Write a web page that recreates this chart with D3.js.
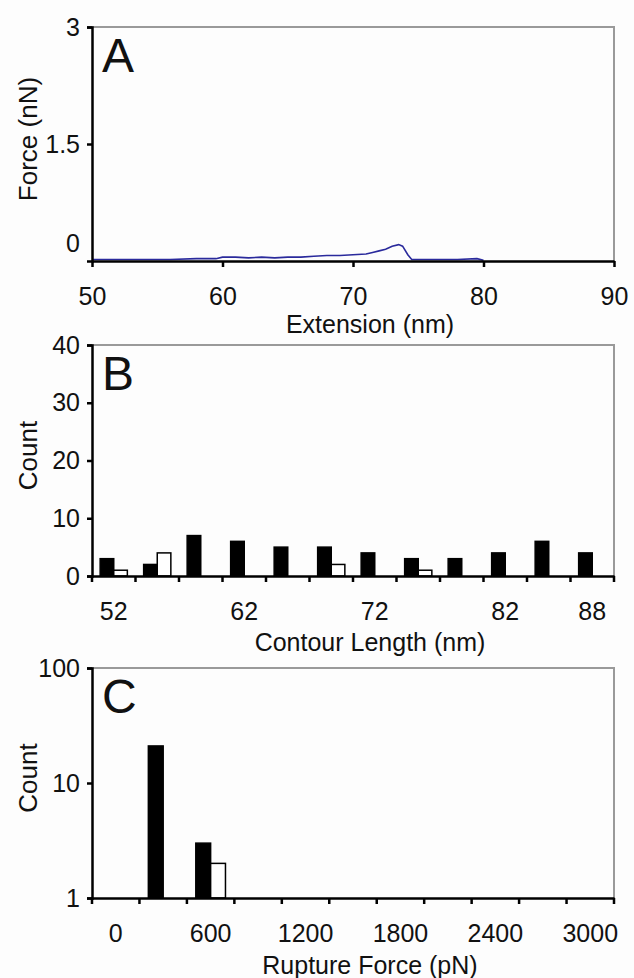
<!DOCTYPE html>
<html>
<head>
<meta charset="utf-8">
<script src="https://cdn.jsdelivr.net/npm/d3@7"></script>
<style>
  body { margin: 0; background: #fdfdfd; }
  svg text { font-family: "Liberation Sans", Arial, sans-serif; fill: #111; }
</style>
</head>
<body>
<div id="chart"></div>
<script>
/* DATA */
// panel A: force trace (extension nm, force nN)
const extension = [50, 52, 54, 56, 58, 59.5, 60, 61, 62, 63, 64, 65, 66, 67, 68, 69, 70, 71, 71.5, 72, 72.5, 73, 73.5, 73.8, 74.2, 74.5, 76, 78, 79.5, 80];
const force = [0.02, 0.02, 0.02, 0.02, 0.03, 0.03, 0.05, 0.05, 0.04, 0.05, 0.04, 0.05, 0.05, 0.06, 0.07, 0.07, 0.08, 0.09, 0.11, 0.13, 0.15, 0.19, 0.21, 0.19, 0.08, 0.02, 0.02, 0.02, 0.03, 0.01];
const forceTicks = [0, 1.5, 3];
const extTicks = [50, 60, 70, 80, 90];

// panel B: contour length histogram
const contourBins = ["52", "55", "59", "62", "65", "69", "72", "75", "79", "82", "85", "88"];
const contourLabels = ["52", "62", "72", "82", "88"];
const contourBlack = [3, 2, 7, 6, 5, 5, 4, 3, 3, 4, 6, 4];
const contourWhite = [1, 4, 0, 0, 0, 2, 0, 1, 0, 0, 0, 0];
const countTicks = [0, 10, 20, 30, 40];

// panel C: rupture force histogram (log count)
const ruptureBins = ["0", "300", "600", "900", "1200", "1500", "1800", "2100", "2400", "2700", "3000"];
const ruptureLabels = ["0", "600", "1200", "1800", "2400", "3000"];
const ruptureBlack = [0, 21, 3, 0, 0, 0, 0, 0, 0, 0, 0];
const ruptureWhite = [0, 0, 2, 0, 0, 0, 0, 0, 0, 0, 0];
const logTicks = [1, 10, 100];

/* LAYOUT */
const width = 634, height = 978;
const left = 92, right = 614, titleX = 370;
const panels = {
  A: { top: 27, bottom: 261 },
  B: { top: 345, bottom: 576 },
  C: { top: 668, bottom: 898 }
};

const svg = d3.select("#chart").append("svg")
  .attr("width", width)
  .attr("height", height);

// frame: grey top/right, black left/bottom drawn by axes
function frame(p) {
  svg.append("path")
    .attr("d", `M${left},${p.top}H${right}V${p.bottom}`)
    .attr("fill", "none")
    .attr("stroke", "#9a9a9a")
    .attr("stroke-width", 2);
}

function styleAxis(g) {
  g.select(".domain").attr("stroke", "#000").attr("stroke-width", 2.5);
  g.selectAll(".tick line").attr("stroke", "#000").attr("stroke-width", 2.5);
  g.selectAll(".tick text").attr("font-size", 25).attr("fill", "#111");
}

function titles(p, letter, xTitle, yTitle, xOff) {
  svg.append("text")
    .attr("x", 102).attr("y", p.top + 45)
    .attr("font-size", 48)
    .text(letter);
  svg.append("text")
    .attr("x", titleX).attr("y", p.bottom + xOff)
    .attr("text-anchor", "middle")
    .attr("font-size", 25)
    .text(xTitle);
  svg.append("text")
    .attr("transform", `translate(37, ${(p.top + p.bottom) / 2 - 5}) rotate(-90)`)
    .attr("text-anchor", "middle")
    .attr("font-size", 26)
    .text(yTitle);
}

/* PANEL A */
{
  const p = panels.A;
  frame(p);
  const xScale = d3.scaleLinear().domain([50, 90]).range([left, right]);
  const yScale = d3.scaleLinear().domain([0, 3]).range([p.bottom, p.top]);

  const lineGen = d3.line()
    .x((d, i) => xScale(extension[i]))
    .y(d => yScale(d));
  svg.append("path")
    .datum(force)
    .attr("fill", "none")
    .attr("stroke", "#2a2a9c")
    .attr("stroke-width", 1.6)
    .attr("d", lineGen);

  const yAxisGroup = svg.append("g")
    .attr("transform", `translate(${left},0)`)
    .call(d3.axisLeft(yScale).tickValues(forceTicks).tickFormat(d => d).tickSize(5).tickPadding(7))
    .call(styleAxis);
  // the zero label sits above the baseline in the original
  yAxisGroup.selectAll(".tick").filter(d => d === 0).select("text").attr("dy", "-0.38em");
  yAxisGroup.selectAll(".tick").filter(d => d === 0).select("line").remove();

  svg.append("g")
    .attr("transform", `translate(0,${p.bottom})`)
    .call(d3.axisBottom(xScale).tickValues(extTicks).tickSize(6).tickPadding(20).tickSizeOuter(0))
    .call(styleAxis);

  titles(p, "A", "Extension (nm)", "Force (nN)", 72);
}

/* BAR PANEL HELPER */
function barPanel(p, bins, labels, black, white, yScale, yTicks, yFormat, base) {
  frame(p);
  const xScale = d3.scaleBand().domain(bins).range([left, right]);
  const inner = d3.scaleBand().domain(["black", "white"])
    .range([0, xScale.bandwidth()]).paddingOuter(0.6);

  const rows = bins.map((b, i) => ({ bin: b, black: black[i], white: white[i] }));
  const bars = [];
  rows.forEach(r => {
    ["black", "white"].forEach(k => {
      if (r[k] > 0) bars.push({ bin: r.bin, key: k, value: r[k] });
    });
  });

  svg.selectAll(null)
    .data(bars)
    .join("rect")
    .attr("x", d => xScale(d.bin) + inner(d.key))
    .attr("width", inner.bandwidth())
    .attr("y", d => yScale(d.value))
    .attr("height", d => yScale(base) - yScale(d.value))
    .attr("fill", d => d.key === "black" ? "#000" : "#fff")
    .attr("stroke", "#000")
    .attr("stroke-width", 1.5);

  svg.append("g")
    .attr("transform", `translate(${left},0)`)
    .call(d3.axisLeft(yScale).tickValues(yTicks).tickFormat(yFormat).tickSize(5).tickPadding(7))
    .call(styleAxis);

  const xAxisGroup = svg.append("g")
    .attr("transform", `translate(0,${p.bottom})`)
    .call(d3.axisBottom(xScale).tickSize(0).tickPadding(26)
      .tickFormat(d => labels.includes(d) ? d : ""))
    .call(styleAxis);

  // tick marks between bins
  const edges = bins.map(b => xScale(b)).concat([right]);
  xAxisGroup.selectAll(".edge")
    .data(edges)
    .join("line")
    .attr("class", "edge")
    .attr("x1", d => d).attr("x2", d => d)
    .attr("y1", 0).attr("y2", 6)
    .attr("stroke", "#000")
    .attr("stroke-width", 2.5);
}

/* PANEL B */
{
  const p = panels.B;
  const yScale = d3.scaleLinear().domain([0, 40]).range([p.bottom, p.top]);
  barPanel(p, contourBins, contourLabels, contourBlack, contourWhite, yScale, countTicks, d => d, 0);
  titles(p, "B", "Contour Length (nm)", "Count", 75);
}

/* PANEL C */
{
  const p = panels.C;
  const yScale = d3.scaleLog().domain([1, 100]).range([p.bottom, p.top]);
  barPanel(p, ruptureBins, ruptureLabels, ruptureBlack, ruptureWhite, yScale, logTicks, d => d, 1);
  titles(p, "C", "Rupture Force (pN)", "Count", 76);
}
</script>
</body>
</html>
